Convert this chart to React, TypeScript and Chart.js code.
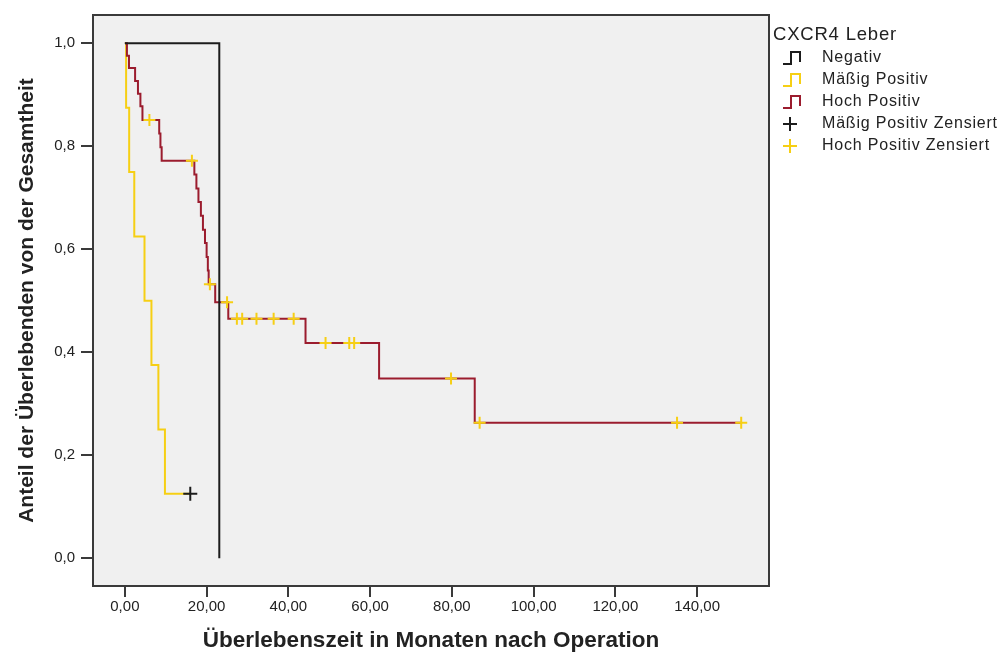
import React, { useEffect, useRef } from 'react';
import { Chart, registerables } from 'chart.js';

Chart.register(...registerables);

// ---------- data ----------
const X_TICKS = [0, 20, 40, 60, 80, 100, 120, 140];
const Y_TICKS = [0, 0.2, 0.4, 0.6, 0.8, 1.0];
const X_MIN = -7.8;
const X_MAX = 157.6;
const Y_MIN = -0.054;
const Y_MAX = 1.055;

// Negativ
const NEG_TIME = [0, 23.1];
const NEG_SURV = [1, 0];

// Mäßig Positiv
const MP_TIME = [0, 0.3, 1.05, 2.3, 4.8, 6.5, 8.2, 9.8, 16.0];
const MP_SURV = [1, 0.875, 0.75, 0.625, 0.5, 0.375, 0.25, 0.125, 0.125];
const MP_CENSOR = [16.0];

// Hoch Positiv
const HP_TIME = [0, 0.5, 1.0, 2.5, 3.2, 3.8, 4.3, 8.4, 8.7, 9.0, 17.0, 17.5, 18.0, 18.6, 19.1, 19.6, 20.0, 20.3, 20.5, 22.1, 25.3, 44.2, 62.2, 85.6, 150.8];
const HP_SURV = [1, 0.976, 0.952, 0.927, 0.902, 0.878, 0.851, 0.825, 0.798, 0.772, 0.745, 0.718, 0.692, 0.665, 0.638, 0.612, 0.585, 0.559, 0.532, 0.497, 0.465, 0.418, 0.349, 0.263, 0.263];
const HP_CENSOR = [6.0, 16.4, 20.8, 25.0, 27.4, 28.7, 32.2, 36.4, 41.3, 49.1, 54.9, 56.1, 79.8, 86.8, 135.1, 150.8];

const LEGEND_TITLE = 'CXCR4 Leber';
const LEGEND_LABELS = ['Negativ', 'Mäßig Positiv', 'Hoch Positiv', 'Mäßig Positiv Zensiert', 'Hoch Positiv Zensiert'];
const X_TITLE = 'Überlebenszeit in Monaten nach Operation';
const Y_TITLE = 'Anteil der Überlebenden von der Gesamtheit';

// ---------- styles ----------
const FAMILY = "'Liberation Sans', Arial, sans-serif";
const C_BLACK = '#1c1c1c';
const C_YELLOW = '#F6CF14';
const C_RED = '#9B1C2E';
const C_TEXT = '#222222';

const LEGEND_COLORS = [C_BLACK, C_YELLOW, C_RED, C_BLACK, C_YELLOW];
const LEGEND_KINDS = ['step', 'step', 'step', 'cross', 'cross'];

function toPoints(t: number[], s: number[]) {
  return t.map((x, i) => ({ x, y: s[i] }));
}

// survival value of a step curve at time t
function survAt(t: number, times: number[], surv: number[]) {
  let v = surv[0];
  for (let i = 0; i < times.length; i++) {
    if (times[i] <= t) v = surv[i];
  }
  return v;
}

const backgroundPlugin = {
  id: 'kmBackground',
  beforeDraw(chart: any) {
    const { ctx, chartArea: a, width, height } = chart;
    ctx.save();
    ctx.fillStyle = '#ffffff';
    ctx.fillRect(0, 0, width, height);
    ctx.fillStyle = '#F0F0F0';
    ctx.fillRect(a.left, a.top, a.right - a.left, a.bottom - a.top);
    ctx.restore();
  },
  beforeDatasetsDraw(chart: any) {
    const { ctx, chartArea: a } = chart;
    ctx.save();
    ctx.strokeStyle = '#3a3a3a';
    ctx.lineWidth = 2;
    ctx.strokeRect(a.left, a.top, a.right - a.left, a.bottom - a.top);
    ctx.restore();
  },
};

const legendPlugin = {
  id: 'kmLegend',
  afterDraw(chart: any) {
    const ctx = chart.ctx;
    ctx.save();
    ctx.fillStyle = C_TEXT;
    ctx.textBaseline = 'middle';
    ctx.textAlign = 'left';
    try {
      ctx.letterSpacing = '0.8px';
    } catch (e) {
      /* ignore */
    }
    ctx.font = `18.5px ${FAMILY}`;
    ctx.fillText(LEGEND_TITLE, 773, 35);
    ctx.font = `16px ${FAMILY}`;
    LEGEND_LABELS.forEach((label, i) => {
      const y = 58 + i * 22;
      ctx.strokeStyle = LEGEND_COLORS[i];
      ctx.lineWidth = 2;
      ctx.beginPath();
      if (LEGEND_KINDS[i] === 'step') {
        ctx.moveTo(783, y + 6);
        ctx.lineTo(791, y + 6);
        ctx.lineTo(791, y - 6);
        ctx.lineTo(800, y - 6);
        ctx.lineTo(800, y + 4);
      } else {
        ctx.moveTo(783, y);
        ctx.lineTo(797, y);
        ctx.moveTo(790, y - 7);
        ctx.lineTo(790, y + 7);
      }
      ctx.stroke();
      ctx.fillStyle = C_TEXT;
      ctx.fillText(label, 822, y);
    });
    ctx.restore();
  },
};

export default function App() {
  const ref = useRef<HTMLCanvasElement | null>(null);

  useEffect(() => {
    if (!ref.current) return;
    const chart = new Chart(ref.current, {
      type: 'line',
      data: {
        datasets: [
          {
            label: 'Hoch Positiv Zensiert',
            data: HP_CENSOR.map((t) => ({ x: t, y: survAt(t, HP_TIME, HP_SURV) })),
            showLine: false,
            pointStyle: 'cross',
            pointRadius: 6,
            pointBorderWidth: 2,
            borderColor: C_YELLOW,
            backgroundColor: C_YELLOW,
          },
          {
            label: 'Mäßig Positiv Zensiert',
            data: MP_CENSOR.map((t) => ({ x: t, y: survAt(t, MP_TIME, MP_SURV) })),
            showLine: false,
            pointStyle: 'cross',
            pointRadius: 7,
            pointBorderWidth: 2,
            borderColor: C_BLACK,
            backgroundColor: C_BLACK,
          },
          {
            label: 'Negativ',
            data: toPoints(NEG_TIME, NEG_SURV),
            stepped: true,
            borderColor: C_BLACK,
            borderWidth: 2,
            pointRadius: 0,
            fill: false,
          },
          {
            label: 'Hoch Positiv',
            data: toPoints(HP_TIME, HP_SURV),
            stepped: true,
            borderColor: C_RED,
            borderWidth: 2,
            pointRadius: 0,
            fill: false,
          },
          {
            label: 'Mäßig Positiv',
            data: toPoints(MP_TIME, MP_SURV),
            stepped: true,
            borderColor: C_YELLOW,
            borderWidth: 2,
            pointRadius: 0,
            fill: false,
          },
        ],
      },
      options: {
        responsive: false,
        animation: false,
        devicePixelRatio: 1,
        layout: { padding: { left: 0, top: 12, right: 236, bottom: 0 } },
        plugins: {
          legend: { display: false },
          tooltip: { enabled: false },
        },
        scales: {
          x: {
            type: 'linear',
            min: X_MIN,
            max: X_MAX,
            afterFit(s: any) {
              s.height = 75;
            },
            afterBuildTicks(s: any) {
              s.ticks = X_TICKS.map((v) => ({ value: v }));
            },
            ticks: {
              autoSkip: false,
              maxRotation: 0,
              padding: 1,
              color: C_TEXT,
              font: { family: FAMILY, size: 15 },
              callback: (v: any) => Number(v).toFixed(2).replace('.', ','),
            },
            grid: { drawOnChartArea: false, drawTicks: true, tickLength: 11, color: '#3a3a3a', lineWidth: 2 },
            border: { display: false },
            title: {
              display: true,
              text: X_TITLE,
              color: C_TEXT,
              font: { family: FAMILY, size: 22.5, weight: 'bold' },
              padding: { top: 0, bottom: 7 },
            },
          },
          y: {
            type: 'linear',
            min: Y_MIN,
            max: Y_MAX,
            afterFit(s: any) {
              s.width = 93;
            },
            afterBuildTicks(s: any) {
              s.ticks = Y_TICKS.map((v) => ({ value: v }));
            },
            ticks: {
              autoSkip: false,
              padding: 6,
              color: C_TEXT,
              font: { family: FAMILY, size: 15 },
              callback: (v: any) => Number(v).toFixed(1).replace('.', ','),
            },
            grid: { drawOnChartArea: false, drawTicks: true, tickLength: 12, color: '#3a3a3a', lineWidth: 2 },
            border: { display: false },
            title: {
              display: true,
              text: Y_TITLE,
              color: C_TEXT,
              font: { family: FAMILY, size: 21, weight: 'bold' },
              padding: { top: 15, bottom: 0 },
            },
          },
        },
      },
      plugins: [backgroundPlugin, legendPlugin],
    } as any);
    return () => chart.destroy();
  }, []);

  return (
    <div style={{ position: 'absolute', left: 0, top: 0, width: 1005, height: 661 }}>
      <canvas ref={ref} width={1005} height={661} style={{ display: 'block', width: 1005, height: 661 }} />
    </div>
  );
}
